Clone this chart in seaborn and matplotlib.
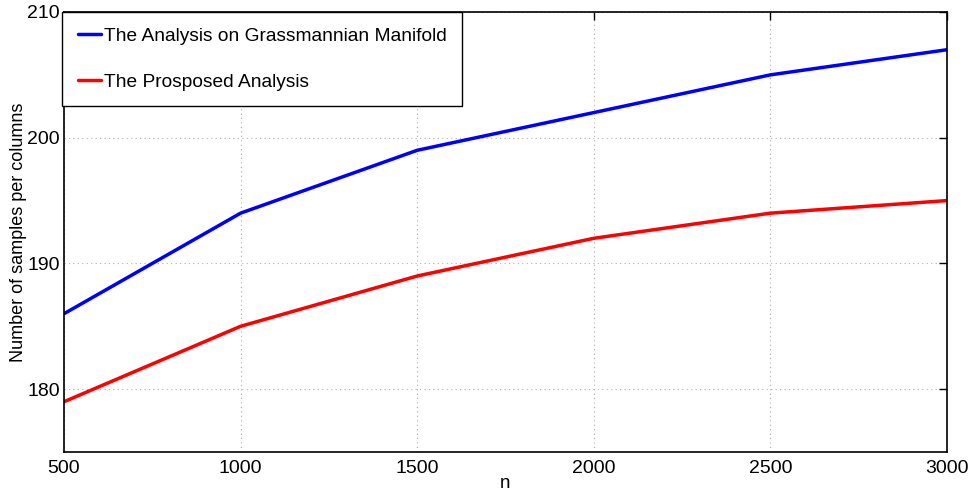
import matplotlib
matplotlib.use("Agg")
import matplotlib.pyplot as plt
import seaborn as sns
import pandas as pd

n_values = [500, 1000, 1500, 2000, 2500, 3000]
grassmann = [186, 194, 199, 202, 205, 207]
proposed = [179, 185, 189, 192, 194, 195]
series_names = ["The Analysis on Grassmannian Manifold", "The Prospo" + "sed Analysis"]
xticks = [500, 1000, 1500, 2000, 2500, 3000]
yticks = [180, 190, 200, 210]

sns.set_theme(style="white")
plt.rcParams['font.family'] = ['Liberation Sans', 'DejaVu Sans']
plt.rcParams['text.color'] = 'black'
plt.rcParams['axes.labelcolor'] = 'black'

df = pd.DataFrame({
    "n": n_values * 2,
    "value": grassmann + proposed,
    "series": [series_names[0]] * len(n_values) + [series_names[1]] * len(n_values),
})

fig = plt.figure(figsize=(9.73, 4.92), dpi=100)
ax = fig.add_axes([64/973, 40/492, (947-64)/973, (452-12)/492])
sns.lineplot(data=df, x="n", y="value", hue="series", palette=["#0000ff", "#ff0000"],
             linewidth=2.5, ax=ax)
ax.set_xlim(500, 3000)
ax.set_ylim(175, 210)
ax.set_xticks(xticks)
ax.set_yticks(yticks)
ax.grid(True, linestyle=(0, (1, 3)), color="#b0b0b0", linewidth=0.8)
for s in ax.spines.values():
    s.set_color("black")
    s.set_linewidth(1.2)
ax.tick_params(direction="in", length=6, width=1, colors="black", labelsize=14,
               top=True, right=True)
ax.tick_params(axis="y", pad=3)
ax.tick_params(axis="x", pad=6)
ax.set_xlabel("n", fontsize=13.5, labelpad=-2)
ax.set_ylabel("Number of samples per columns", fontsize=13, labelpad=0)
leg = ax.legend(loc="upper left", bbox_to_anchor=(-0.002, 1.0), fontsize=13.8,
                frameon=True, fancybox=False, edgecolor="black", borderaxespad=0,
                handlelength=1.2, handletextpad=0.2,
                labelspacing=1.5, borderpad=0.8)
leg.get_frame().set_linewidth(1.0)
leg.get_frame().set_alpha(1)
fig.savefig("out.png", dpi=100)
